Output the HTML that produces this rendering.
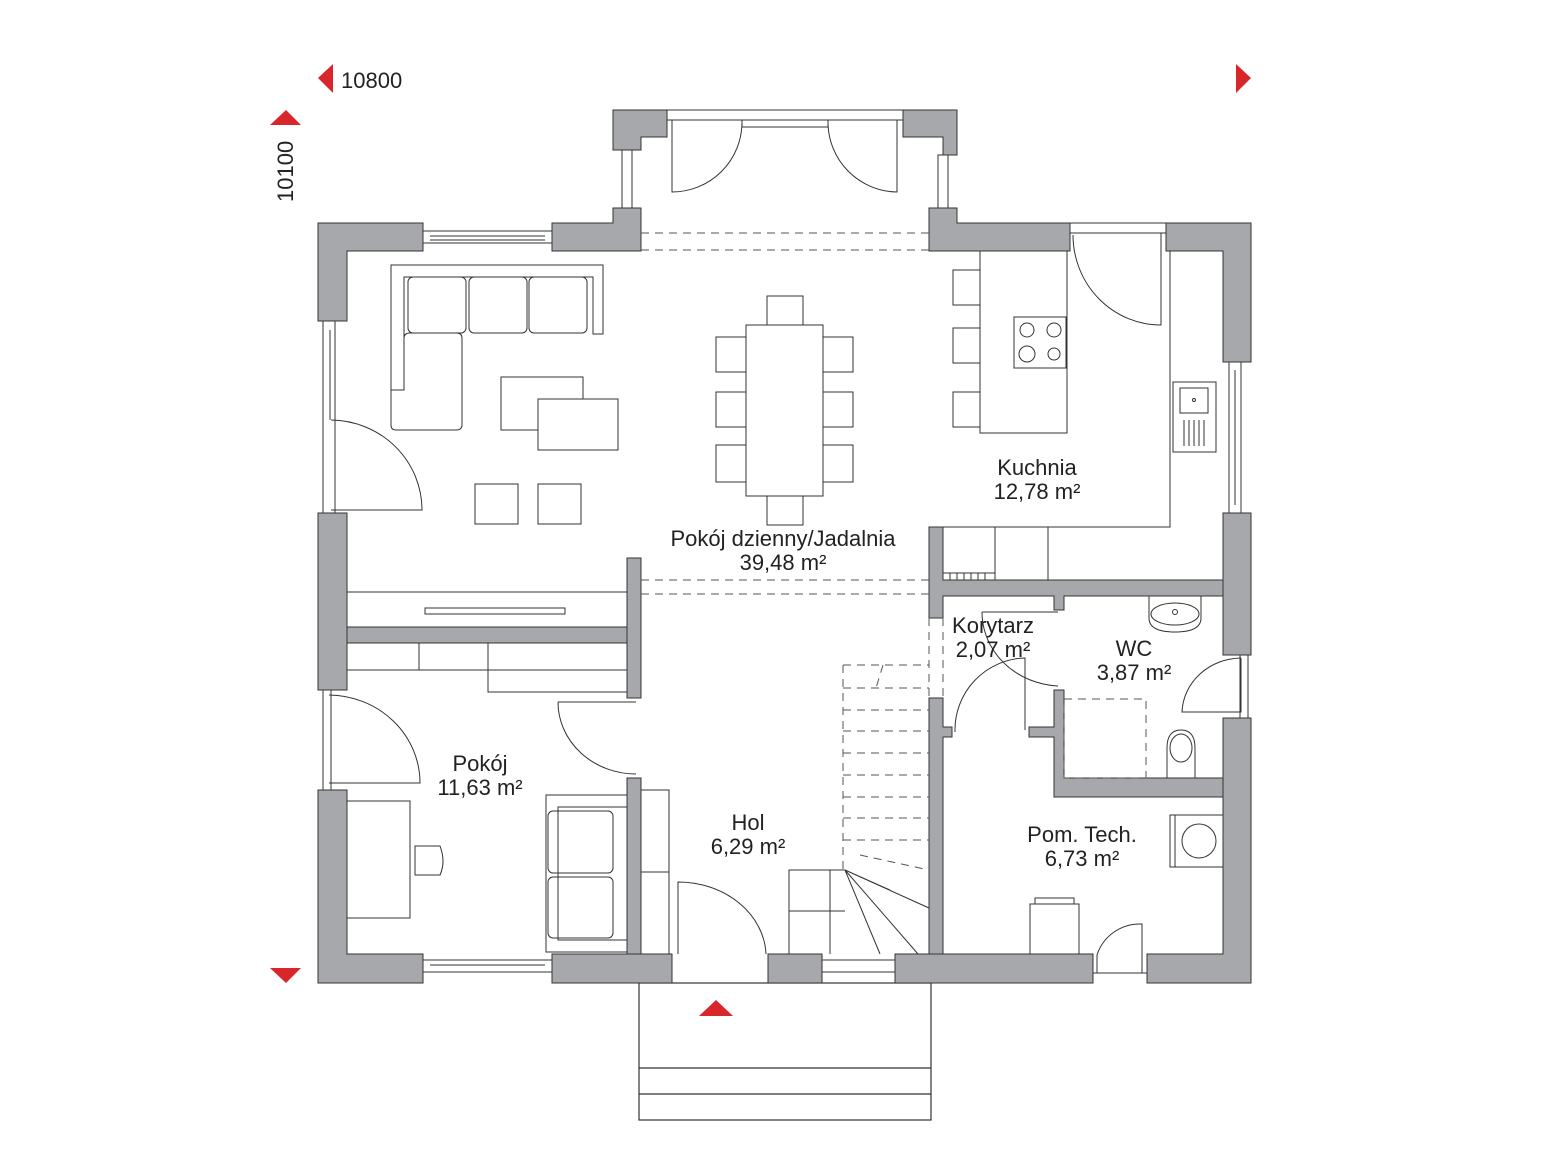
<!DOCTYPE html>
<html><head><meta charset="utf-8"><style>
html,body{margin:0;padding:0;background:#fff}
svg{display:block}
text{font-family:"Liberation Sans",sans-serif;fill:#222}
</style></head><body>
<svg width="1556" height="1167" viewBox="0 0 1556 1167" xmlns="http://www.w3.org/2000/svg">
<polygon points="333,64 333,93 318,78" fill="#d9262b"/>
<polygon points="1236,64 1236,93 1251,78" fill="#d9262b"/>
<polygon points="270,125 301,125 286,110" fill="#d9262b"/>
<polygon points="270,968 301,968 286,983" fill="#d9262b"/>
<polygon points="699,1016 733,1016 716,1000" fill="#d9262b"/>
<text x="341" y="88" font-size="22">10800</text>
<text x="0" y="0" font-size="22" transform="translate(293,202) rotate(-90)">10100</text>

<g fill="none" stroke="#333" stroke-width="1.2">
<rect x="639" y="983" width="292" height="137"/>
<line x1="639" y1="1068" x2="931" y2="1068"/>
<line x1="639" y1="1094" x2="931" y2="1094"/>
</g>

<g fill="#fff" stroke="#333" stroke-width="1">
<rect x="423" y="231" width="129" height="12"/><line x1="430" y1="236" x2="545" y2="236"/><line x1="430" y1="240" x2="545" y2="240"/>
<rect x="1070" y="223" width="96" height="10"/>
<rect x="423" y="960" width="129" height="12"/><line x1="430" y1="965" x2="545" y2="965"/>
<rect x="822" y="960" width="73" height="12"/>
<rect x="323" y="321" width="12" height="192"/><line x1="330" y1="330" x2="330" y2="420"/>
<rect x="323" y="690" width="8" height="100"/>
<rect x="1229" y="362" width="12" height="151"/><line x1="1235" y1="370" x2="1235" y2="505"/>
<rect x="1240" y="655" width="8" height="63"/>
<rect x="622" y="150" width="10" height="58"/>
<rect x="938" y="155" width="10" height="53"/>
<rect x="667" y="110" width="236" height="10"/>
<rect x="742" y="120" width="86" height="7"/>
</g>

<g fill="#a7a8ab" stroke="#333" stroke-width="1">
<path d="M318,223 H423 V251 H347 V321 H318 Z"/>
<path d="M552,223 H613 V208 H641 V251 H552 Z"/>
<path d="M613,110 H667 V137 H641 V150 H613 Z"/>
<path d="M903,110 H957 V155 H943 V137 H903 Z"/>
<path d="M929,208 H957 V223 H1070 V251 H929 Z"/>
<path d="M1166,223 H1251 V362 H1223 V251 H1166 Z"/>
<rect x="318" y="513" width="29" height="177"/>
<path d="M318,790 H347 V954 H423 V983 H318 Z"/>
<rect x="552" y="954" width="120" height="29"/>
<rect x="768" y="954" width="54" height="29"/>
<rect x="895" y="954" width="198" height="29"/>
<path d="M1147,954 H1223 V718 H1251 V983 H1147 Z"/>
<rect x="1223" y="513" width="28" height="142"/>
<rect x="347" y="627" width="280" height="16"/>
<rect x="627" y="558" width="14" height="140"/>
<rect x="627" y="778" width="14" height="176"/>
<path d="M929,527 H943 V580 H1223 V596 H1064 V610 H1054 V596 H943 V618 H929 Z"/>
<path d="M929,698 H943 V727 H952 V737 H943 V954 H929 Z"/>
<path d="M1054,690 H1064 V778 H1223 V797 H1054 V737 H1029 V727 H1054 Z"/>
</g>

<g fill="none" stroke="#333" stroke-width="1">
<g stroke-dasharray="8,6" stroke="#555">
<line x1="641" y1="233" x2="929" y2="233"/><line x1="641" y1="250" x2="929" y2="250"/>
<line x1="641" y1="580" x2="929" y2="580"/><line x1="641" y1="594" x2="929" y2="594"/>
<line x1="929" y1="618" x2="929" y2="698"/><line x1="943" y1="618" x2="943" y2="698"/>
<rect x="1064" y="699" width="82" height="79"/>
</g>
<path d="M672,120 V192 A70,70 0 0 0 742,122"/>
<path d="M897,120 V192 A70,70 0 0 1 828,122"/>
<path d="M331,420 A92,90 0 0 1 422,510 H331"/>
<path d="M1161,233 V325 A88,90 0 0 1 1073,235"/>
<path d="M391,265 H603 V334 H593 V277 H404 V390 H391 Z"/>
<rect x="408" y="277" width="58" height="56" rx="5"/>
<rect x="469" y="277" width="58" height="56" rx="5"/>
<rect x="529" y="277" width="58" height="56" rx="5"/>
<path d="M391,390 H404 V338 Q404,333 410,333 H456 Q462,333 462,338 V425 Q462,430 456,430 H396 Q391,430 391,425 Z"/>
<rect x="501" y="377" width="82" height="53"/>
<rect x="538" y="399" width="80" height="51" fill="#fff"/>
<rect x="475" y="484" width="43" height="40"/>
<rect x="538" y="484" width="43" height="40"/>
<rect x="746" y="325" width="77" height="171"/>
<rect x="767" y="296" width="36" height="29"/>
<rect x="767" y="496" width="36" height="29"/>
<rect x="716" y="337" width="30" height="35"/><rect x="716" y="392" width="30" height="35"/><rect x="716" y="445" width="30" height="37"/>
<rect x="823" y="337" width="30" height="35"/><rect x="823" y="392" width="30" height="35"/><rect x="823" y="445" width="30" height="37"/>
<rect x="980" y="251" width="87" height="182"/>
<rect x="953" y="270" width="27" height="35"/><rect x="953" y="328" width="27" height="35"/><rect x="953" y="392" width="27" height="35"/>
<rect x="1014" y="317" width="52" height="51"/>
<circle cx="1027" cy="330" r="7"/><circle cx="1054" cy="330" r="7"/>
<circle cx="1027" cy="354" r="8"/><circle cx="1054" cy="354" r="6"/>
<path d="M1170,251 V527 H943"/>
<rect x="1173" y="382" width="43" height="70"/>
<rect x="1180" y="388" width="28" height="25"/><circle cx="1194" cy="400" r="1.5"/>
<path d="M1184,420 V446 M1189,420 V446 M1194,420 V446 M1199,420 V446 M1204,420 V446"/>
<line x1="995" y1="527" x2="995" y2="580"/><line x1="1048" y1="527" x2="1048" y2="580"/>
<path d="M943,573 H995 M950,573 V580 M957,573 V580 M964,573 V580 M971,573 V580 M978,573 V580 M985,573 V580"/>
<line x1="347" y1="592" x2="627" y2="592"/>
<rect x="425" y="608" width="140" height="6"/>
<path d="M347,670 H627 M419,643 V670 M488,643 V692 H627"/>
<path d="M329,695 A92,88 0 0 1 420,783 H329"/>
<path d="M558,702 H636 M558,702 A78,72 0 0 0 636,774"/>
<rect x="347" y="801" width="63" height="117"/>
<path d="M415,846 H440 Q446,862 440,875 H415 Z"/>
<path d="M546,795 H627 V807 H558 V940 H627 V952 H546 Z"/>
<rect x="548" y="811" width="65" height="62" rx="5"/>
<rect x="548" y="877" width="65" height="61" rx="5"/>
<path d="M641,790 H669 V954 M641,872 H669"/>
<path d="M678,954 V882 A88,75 0 0 1 766,954"/>
<path d="M789,954 V870 H845 M789,911 H845 M830,870 V954 M845,870 L880,954 M845,870 L918,954 M845,870 L890,890 M845,870 L929,908"/>
<g stroke-dasharray="8,6" stroke="#555">
<path d="M843,665 V870 M843,665 H929"/>
<line x1="843" y1="688" x2="929" y2="688"/><line x1="843" y1="710" x2="929" y2="710"/>
<line x1="843" y1="731" x2="929" y2="731"/><line x1="843" y1="753" x2="929" y2="753"/>
<line x1="843" y1="775" x2="929" y2="775"/><line x1="843" y1="797" x2="929" y2="797"/>
<line x1="843" y1="818" x2="929" y2="818"/><line x1="843" y1="840" x2="929" y2="840"/>
<line x1="860" y1="855" x2="929" y2="870"/>
<line x1="883" y1="665" x2="876" y2="688"/>
</g>
<path d="M955,732 A72,72 0 0 1 1025,658 V730"/>
<path d="M982,612 H1058 M982,612 A80,74 0 0 0 1058,686"/>
<path d="M1149,596 H1201 V618 Q1201,632 1175,632 Q1149,632 1149,618 Z"/>
<ellipse cx="1175" cy="614" rx="24" ry="11"/><circle cx="1175" cy="612" r="2.5"/>
<path d="M1241,658 V712 H1182 A60,56 0 0 1 1241,658"/>
<path d="M1167,778 V748 Q1167,730 1181,730 Q1195,730 1195,748 V778"/>
<ellipse cx="1181" cy="748" rx="11" ry="14"/>
<rect x="1170" y="815" width="53" height="52"/><line x1="1175" y1="815" x2="1175" y2="867"/>
<circle cx="1199" cy="841" r="17"/>
<rect x="1030" y="904" width="49" height="50"/><rect x="1035" y="898" width="39" height="6"/>
<path d="M1097,973 V955 A45,45 0 0 1 1142,924 V973"/>
<line x1="1093" y1="973" x2="1147" y2="973"/>
</g>

<g font-size="22" text-anchor="middle">
<text x="1037" y="475">Kuchnia</text><text x="1037" y="499">12,78 m²</text>
<text x="783" y="546">Pokój dzienny/Jadalnia</text><text x="783" y="570">39,48 m²</text>
<text x="993" y="633">Korytarz</text><text x="993" y="657">2,07 m²</text>
<text x="1134" y="656">WC</text><text x="1134" y="680">3,87 m²</text>
<text x="480" y="771">Pokój</text><text x="480" y="795">11,63 m²</text>
<text x="748" y="830">Hol</text><text x="748" y="854">6,29 m²</text>
<text x="1082" y="842">Pom. Tech.</text><text x="1082" y="866">6,73 m²</text>
</g>
</svg>
</body></html>
